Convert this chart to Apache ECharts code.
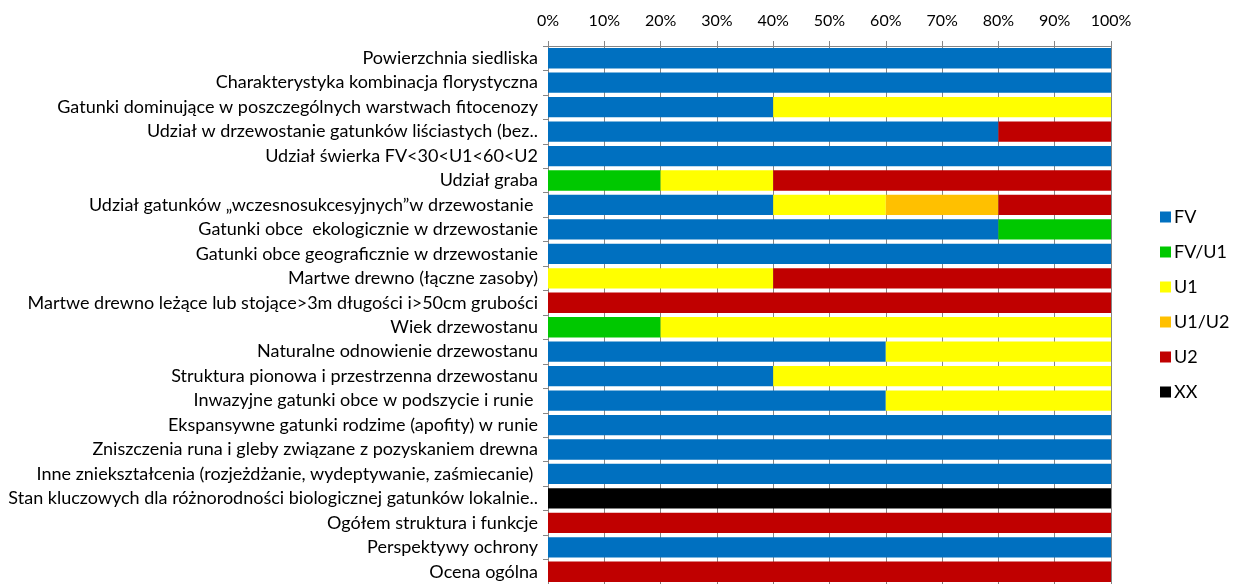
<!DOCTYPE html>
<html>
<head>
<meta charset="utf-8">
<script src="https://cdn.jsdelivr.net/npm/echarts@6/dist/echarts.min.js"></script>
<style>
html,body{margin:0;padding:0;background:#fff;}
#chart{width:1233px;height:584px;}
</style>
</head>
<body>
<div id="chart"></div>
<script>
const categories = [
  "Powierzchnia siedliska",
  "Charakterystyka kombinacja florystyczna",
  "Gatunki dominujące w poszczególnych warstwach fitocenozy",
  "Udział w drzewostanie gatunków liściastych (bez..",
  "Udział świerka FV<30<U1<60<U2",
  "Udział graba",
  "Udział gatunków „wczesnosukcesyjnych”w drzewostanie ",
  "Gatunki obce  ekologicznie w drzewostanie",
  "Gatunki obce geograficznie w drzewostanie",
  "Martwe drewno (łączne zasoby)",
  "Martwe drewno leżące lub stojące>3m długości i>50cm grubości",
  "Wiek drzewostanu",
  "Naturalne odnowienie drzewostanu",
  "Struktura pionowa i przestrzenna drzewostanu",
  "Inwazyjne gatunki obce w podszycie i runie ",
  "Ekspansywne gatunki rodzime (apofity) w runie",
  "Zniszczenia runa i gleby związane z pozyskaniem drewna",
  "Inne zniekształcenia (rozjeżdżanie, wydeptywanie, zaśmiecanie) ",
  "Stan kluczowych dla różnorodności biologicznej gatunków lokalnie..",
  "Ogółem struktura i funkcje",
  "Perspektywy ochrony",
  "Ocena ogólna"
];
const seriesNames = ["FV", "FV/U1", "U1", "U1/U2", "U2", "XX"];
const FV     = [100,100,40,80,100,0,40,80,100,0,0,0,60,40,60,100,100,100,0,0,100,0];
const FV_U1  = [0,0,0,0,0,20,0,20,0,0,0,20,0,0,0,0,0,0,0,0,0,0];
const U1     = [0,0,60,0,0,20,20,0,0,40,0,80,40,60,40,0,0,0,0,0,0,0];
const U1_U2  = [0,0,0,0,0,0,20,0,0,0,0,0,0,0,0,0,0,0,0,0,0,0];
const U2     = [0,0,0,20,0,60,20,0,0,60,100,0,0,0,0,0,0,0,0,100,0,100];
const XX     = [0,0,0,0,0,0,0,0,0,0,0,0,0,0,0,0,0,0,100,0,0,0];
const seriesValues = [FV, FV_U1, U1, U1_U2, U2, XX];
const tickValues = [0,10,20,30,40,50,60,70,80,90,100];

const colors = ["#0070C0", "#00C800", "#FFFF00", "#FFC000", "#C00000", "#000000"];
const FONT = "Lato, 'Open Sans', sans-serif";

const chart = echarts.init(document.getElementById('chart'), null, {renderer: 'canvas'});
chart.setOption({
  animation: false,
  backgroundColor: '#ffffff',
  color: colors,
  grid: {left: 548, right: 122, top: 46, height: 544, containLabel: false},
  legend: {
    orient: 'vertical',
    left: 1160,
    top: 208,
    icon: 'rect',
    itemWidth: 11,
    itemHeight: 11,
    itemGap: 17,
    padding: 0,
    data: seriesNames,
    textStyle: {fontFamily: FONT, fontSize: 18, color: '#000', lineHeight: 18, padding: [0,0,0,-2]}
  },
  xAxis: {
    type: 'value',
    position: 'top',
    min: tickValues[0],
    max: tickValues[tickValues.length - 1],
    interval: 10,
    axisLine: {show: true, lineStyle: {color: '#868686', width: 1}},
    axisTick: {show: true, length: 5, inside: false, lineStyle: {color: '#868686'}},
    axisLabel: {margin: 17, formatter: '{value}%', fontFamily: FONT, fontSize: 16, color: '#000'},
    splitLine: {show: true, lineStyle: {color: '#868686', width: 1}}
  },
  yAxis: {
    type: 'category',
    inverse: true,
    data: categories,
    axisLine: {show: true, lineStyle: {color: '#868686'}},
    axisTick: {show: true, length: 5, lineStyle: {color: '#868686'}},
    axisLabel: {margin: 10, fontFamily: FONT, fontSize: 18, color: '#000', interval: 0}
  },
  series: seriesNames.map((name, i) => ({
    name: name,
    type: 'bar',
    stack: 'total',
    barCategoryGap: '17%',
    data: seriesValues[i],
    itemStyle: {color: colors[i]}
  }))
});
</script>
</body>
</html>
